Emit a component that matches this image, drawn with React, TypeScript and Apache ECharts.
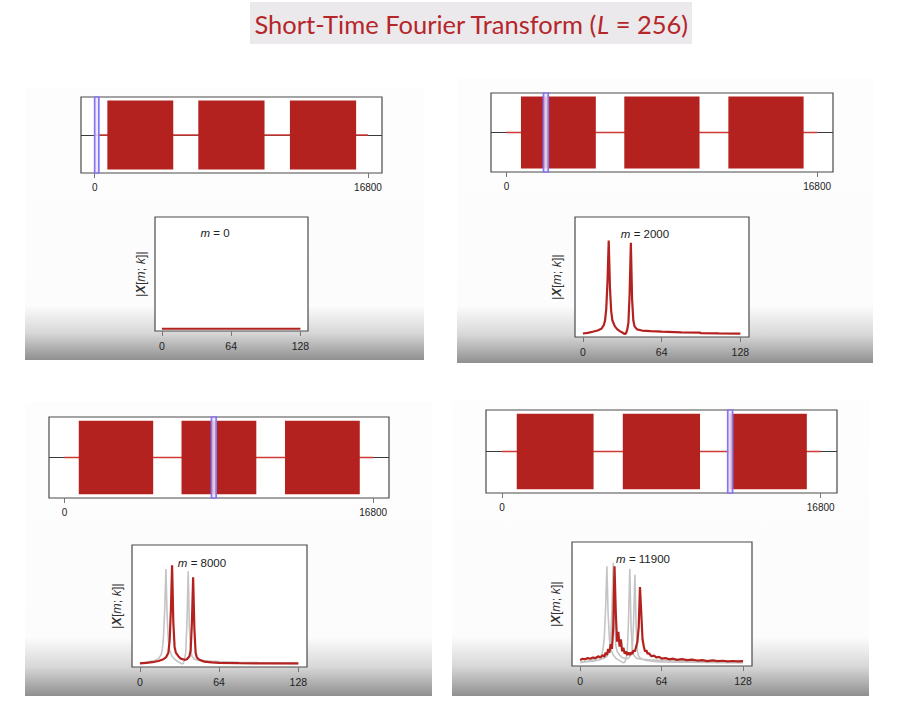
import React, { useEffect, useRef } from "react";
import * as echarts from "echarts";

// ---------------- data ----------------
const TITLE_MAIN = "Short-Time Fourier Transform (";
const TITLE_VAR = "L";
const TITLE_TAIL = " = 256)";

const SIGNAL_TICKS = [0, 16800];
const SPECTRUM_TICKS = [0, 64, 128];
const SIGNAL_START = 0;
const SIGNAL_END = 16800;
// [start sample, end sample, amplitude]
const BURSTS = [
  [780, 4830, 0.91],
  [6370, 10440, 0.91],
  [12000, 16070, 0.91],
];
const WINDOW_LEN = 256;
const FRAME_POSITIONS = [0, 2000, 8000, 11900];

const SPEC_M0 = [
  [0, 0],
  [128, 0],
];
const SPEC_M2000 = [
  [0, 0.01], [4, 0.015], [8, 0.025], [12, 0.035], [15, 0.05], [17, 0.08], [18, 0.12],
  [19, 0.22], [20, 0.45], [21, 0.8], [22, 0.4], [23, 0.2], [24, 0.12], [26, 0.07],
  [28, 0.045], [30, 0.03], [32, 0.018], [34, 0.006], [35, 0.01], [36, 0.04], [37, 0.1],
  [38, 0.35], [39, 0.78], [40, 0.3], [41, 0.12], [42, 0.07], [44, 0.045], [48, 0.035],
  [55, 0.03], [64, 0.025], [80, 0.02], [95, 0.018], [96, 0.012], [110, 0.01], [128, 0.008],
];
const SPEC_M8000 = [
  [0, 0.01], [5, 0.015], [10, 0.02], [15, 0.03], [19, 0.045], [21, 0.06], [23, 0.1],
  [24, 0.2], [25, 0.45], [26, 0.83], [27, 0.35], [28, 0.15], [29, 0.1], [31, 0.07],
  [33, 0.05], [36, 0.04], [38, 0.045], [40, 0.07], [41, 0.12], [42, 0.35], [43, 0.73],
  [44, 0.3], [45, 0.1], [46, 0.06], [48, 0.04], [52, 0.025], [58, 0.018], [64, 0.014],
  [80, 0.012], [100, 0.01], [128, 0.01],
];
const SPEC_M11900 = [
  [0, 0.03], [2, 0.04], [4, 0.035], [6, 0.045], [8, 0.04], [10, 0.05], [12, 0.045],
  [14, 0.06], [16, 0.05], [18, 0.07], [19, 0.055], [20, 0.09], [21, 0.07], [22, 0.12],
  [23, 0.09], [24, 0.16], [25, 0.12], [26, 0.3], [27, 0.8], [28, 0.42], [29, 0.18],
  [30, 0.26], [31, 0.14], [32, 0.2], [33, 0.1], [34, 0.13], [35, 0.08], [36, 0.1],
  [37, 0.07], [38, 0.09], [39, 0.07], [40, 0.09], [41, 0.08], [42, 0.11], [43, 0.1],
  [44, 0.14], [45, 0.18], [46, 0.3], [47, 0.63], [48, 0.42], [49, 0.2], [50, 0.14],
  [51, 0.1], [52, 0.11], [53, 0.08], [54, 0.085], [56, 0.06], [58, 0.065], [60, 0.05],
  [62, 0.055], [64, 0.04], [67, 0.045], [70, 0.035], [73, 0.04], [76, 0.03], [80, 0.036],
  [84, 0.028], [88, 0.032], [92, 0.025], [96, 0.028], [100, 0.02], [104, 0.026],
  [108, 0.02], [112, 0.023], [116, 0.018], [120, 0.021], [124, 0.018], [128, 0.02],
];
const SPECTRA = [SPEC_M0, SPEC_M2000, SPEC_M8000, SPEC_M11900];
const GHOST_SPECTRA = [[], [], [SPEC_M2000], [SPEC_M2000, SPEC_M8000]];
const Y_LABEL = "|{b|X}[{i|m}; {i|k}]|";

// ---------------- layout / style ----------------
const RED = "#b3221f";
const FONT = "Liberation Sans, Arial, sans-serif";

const PANELS = [
  {
    bg: [25, 88, 399, 272],
    sig: { left: 81, top: 97, width: 301, height: 76 },
    spec: { left: 155, top: 217, width: 153, height: 114 },
    nameGap: 8,
    label: [215, 233],
  },
  {
    bg: [457, 78, 416, 285],
    sig: { left: 491, top: 93, width: 342, height: 79 },
    spec: { left: 575, top: 217, width: 174, height: 120 },
    nameGap: 12,
    label: [645, 234],
  },
  {
    bg: [25, 402, 407, 294],
    sig: { left: 49, top: 417, width: 340, height: 81 },
    spec: { left: 132, top: 545, width: 175, height: 122 },
    nameGap: 9,
    label: [202, 563],
  },
  {
    bg: [452, 400, 417, 296],
    sig: { left: 486, top: 410, width: 351, height: 83 },
    spec: { left: 572, top: 542, width: 180, height: 124 },
    nameGap: 10,
    label: [643, 559],
  },
];

const plain = (v: number) => String(v);

function buildOption() {
  const grid: any[] = [];
  const xAxis: any[] = [];
  const yAxis: any[] = [];
  const series: any[] = [];
  const graphic: any[] = [];

  // title
  graphic.push({
    type: "rect",
    shape: { x: 250, y: 2, width: 442, height: 42 },
    style: { fill: "#ebe9eb" },
    z: 0,
  });
  graphic.push({
    type: "text",
    x: 471,
    y: 24,
    style: {
      text: TITLE_MAIN + "{i|" + TITLE_VAR + "}" + TITLE_TAIL,
      fill: "#b5262a",
      font: "25.5px Lato, 'Open Sans', sans-serif",
      align: "center",
      verticalAlign: "middle",
      rich: {
        i: { fontStyle: "italic", fontSize: 25.5, fontFamily: "Lato", fill: "#b5262a" },
      },
    },
    z: 1,
  });

  PANELS.forEach((p, i) => {
    const [bx, by, bw, bh] = p.bg;
    graphic.push({
      type: "rect",
      shape: { x: bx, y: by, width: bw, height: bh },
      style: {
        fill: new echarts.graphic.LinearGradient(0, 0, 0, 1, [
          { offset: 0, color: "#fefdfe" },
          { offset: 0.8, color: "#fdfcfd" },
          { offset: 0.9, color: "#d8d8d8" },
          { offset: 1, color: "#8f8f8f" },
        ]),
      },
      z: -10,
      silent: true,
    });

    // ---- time signal grid
    const gs = grid.length;
    grid.push({
      ...p.sig,
      show: true,
      borderColor: "#4a4a4a",
      borderWidth: 1.2,
      backgroundColor: "#ffffff",
    });
    xAxis.push({
      type: "value",
      gridIndex: gs,
      min: -840,
      max: 17660,
      axisLine: { show: false, onZero: false },
      splitLine: { show: false },
      axisTick: { show: true, customValues: SIGNAL_TICKS, length: 5, lineStyle: { color: "#777" } },
      axisLabel: {
        customValues: SIGNAL_TICKS,
        formatter: plain,
        fontSize: 10,
        fontFamily: FONT,
        color: "#222",
        margin: 9,
      },
    });
    yAxis.push({ type: "value", gridIndex: gs, min: -1, max: 1, show: false });

    series.push({
      type: "custom",
      xAxisIndex: gs,
      yAxisIndex: gs,
      data: BURSTS,
      z: 3,
      encode: { x: [0, 1], y: 2 },
      renderItem: (params: any, api: any) => {
        const s = api.value(0);
        const e = api.value(1);
        const a = api.value(2);
        const p1 = api.coord([s, a]);
        const p2 = api.coord([e, -a]);
        return {
          type: "rect",
          shape: { x: p1[0], y: p1[1], width: p2[0] - p1[0], height: p2[1] - p1[1] },
          style: { fill: RED },
        };
      },
      markLine: {
        silent: true,
        symbol: "none",
        label: { show: false },
        lineStyle: { color: "#3a3a3a", width: 1.2, type: "solid" },
        data: [{ yAxis: 0 }],
        z: 1,
      },
    });
    series.push({
      type: "line",
      xAxisIndex: gs,
      yAxisIndex: gs,
      data: [
        [SIGNAL_START, 0],
        [SIGNAL_END, 0],
      ],
      showSymbol: false,
      lineStyle: { color: "#d03a36", width: 1.5 },
      z: 2,
    });
    series.push({
      type: "custom",
      xAxisIndex: gs,
      yAxisIndex: gs,
      data: [[FRAME_POSITIONS[i], FRAME_POSITIONS[i] + WINDOW_LEN]],
      z: 5,
      encode: { x: [0, 1] },
      renderItem: (params: any, api: any) => {
        const p1 = api.coord([api.value(0), 1]);
        const p2 = api.coord([api.value(1), -1]);
        return {
          type: "rect",
          shape: { x: p1[0], y: p1[1], width: p2[0] - p1[0], height: p2[1] - p1[1] },
          style: { fill: "rgba(236,228,252,0.85)", stroke: "#8676ee", lineWidth: 1.7 },
        };
      },
    });

    // ---- spectrum grid
    const gp = grid.length;
    grid.push({
      ...p.spec,
      show: true,
      borderColor: "#4a4a4a",
      borderWidth: 1.2,
      backgroundColor: "#ffffff",
    });
    xAxis.push({
      type: "value",
      gridIndex: gp,
      min: -6.4,
      max: 135,
      axisLine: { show: false, onZero: false },
      splitLine: { show: false },
      axisTick: { show: true, customValues: SPECTRUM_TICKS, length: 5, lineStyle: { color: "#777" } },
      axisLabel: {
        customValues: SPECTRUM_TICKS,
        formatter: plain,
        fontSize: 10.5,
        fontFamily: FONT,
        color: "#222",
        margin: 9,
      },
    });
    yAxis.push({
      type: "value",
      gridIndex: gp,
      min: -0.02,
      max: 1,
      axisLine: { show: false, onZero: false },
      axisTick: { show: false },
      axisLabel: { show: false },
      splitLine: { show: false },
      name: Y_LABEL,
      nameLocation: "middle",
      nameRotate: 90,
      nameGap: p.nameGap,
      nameTextStyle: {
        fontSize: 12.5,
        fontFamily: FONT,
        color: "#333",
        rich: {
          i: { fontStyle: "italic", fontSize: 12.5, fontFamily: FONT, color: "#333" },
          b: { fontStyle: "italic", fontWeight: "bold", fontSize: 12.5, fontFamily: FONT, color: "#333" },
        },
      },
    });
    GHOST_SPECTRA[i].forEach((g) => {
      series.push({
        type: "line",
        xAxisIndex: gp,
        yAxisIndex: gp,
        data: g,
        showSymbol: false,
        lineStyle: { color: "#c4c4c4", width: 1.6 },
        z: 2,
      });
    });
    series.push({
      type: "line",
      xAxisIndex: gp,
      yAxisIndex: gp,
      data: SPECTRA[i],
      showSymbol: false,
      lineStyle: { color: RED, width: 2.2 },
      z: 3,
    });

    graphic.push({
      type: "text",
      x: p.label[0],
      y: p.label[1],
      style: {
        text: "{i|m} = " + FRAME_POSITIONS[i],
        font: "11.5px " + FONT,
        fill: "#222",
        align: "center",
        verticalAlign: "middle",
        rich: { i: { fontStyle: "italic", fontSize: 11.5, fontFamily: FONT, fill: "#222" } },
      },
      z: 10,
    });
  });

  return {
    animation: false,
    backgroundColor: "#ffffff",
    grid,
    xAxis,
    yAxis,
    series,
    graphic,
  };
}

export default function App() {
  const ref = useRef<HTMLDivElement>(null);
  useEffect(() => {
    if (!ref.current) return;
    const chart = echarts.init(ref.current, undefined, { renderer: "svg" });
    chart.setOption(buildOption() as any);
    return () => chart.dispose();
  }, []);
  return (
    <div
      ref={ref}
      style={{ position: "fixed", left: 0, top: 0, width: 903, height: 701 }}
    />
  );
}
